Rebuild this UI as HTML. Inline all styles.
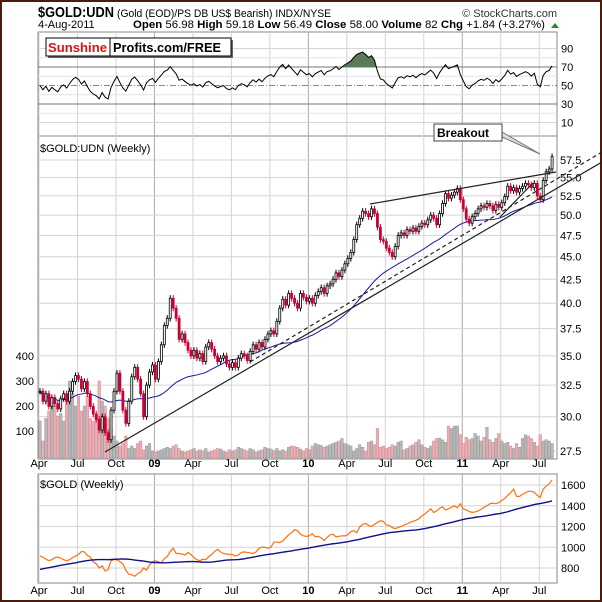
<!DOCTYPE html>
<html><head><meta charset="utf-8"><style>
html,body{margin:0;padding:0;background:#fff}
#wrap{position:relative;width:602px;height:602px;overflow:hidden;background:#fff}
svg text{font-family:"Liberation Sans",sans-serif}
</style></head><body>
<div id="wrap">
<svg id="svg" width="602" height="602" viewBox="0 0 602 602">
<rect x="1" y="1" width="600" height="600" fill="#fff" stroke="#4a1c0c" stroke-width="2"/>
<text x="38" y="17" font-size="15" font-weight="bold" textLength="76" lengthAdjust="spacingAndGlyphs">$GOLD:UDN</text>
<text x="117" y="17" font-size="11" textLength="214" lengthAdjust="spacingAndGlyphs">(Gold (EOD)/PS DB US$ Bearish)  INDX/NYSE</text>
<text x="557" y="17" font-size="11" text-anchor="end" fill="#333">© StockCharts.com</text>
<text x="38" y="28" font-size="11">4-Aug-2011</text>
<text x="133" y="28" font-size="11" textLength="412" lengthAdjust="spacingAndGlyphs"><tspan font-weight="bold">Open</tspan> 56.98  <tspan font-weight="bold">High</tspan> 59.18  <tspan font-weight="bold">Low</tspan> 56.49  <tspan font-weight="bold">Close</tspan> 58.00  <tspan font-weight="bold">Volume</tspan> 82  <tspan font-weight="bold">Chg</tspan> +1.84 (+3.27%)</text>
<polygon points="551,28 555,23 559,28" fill="#2a8a2a"/>
<g id="g"></g>
</svg>
</div>
<script>
// ---- data ----
const quarterLabels=['Apr','Jul','Oct','09','Apr','Jul','Oct','10','Apr','Jul','Oct','11','Apr','Jul'];
const priceTicks=[27.5,30,32.5,35,37.5,40,42.5,45,47.5,50,52.5,55,57.5];
const volTicks=[100,200,300,400];
const rsiTicks=[10,30,50,70,90];
const goldTicks=[800,1000,1200,1400,1600];
const closes=[32.0,31.2,31.8,30.8,31.5,31.0,30.6,31.4,31.8,31.2,32.0,32.8,33.3,
33.0,32.2,32.8,31.8,30.8,30.2,29.8,29.0,30.0,28.8,28.3,30.5,32.0,
33.5,32.0,30.5,29.5,31.2,33.2,34.0,33.0,31.8,30.0,32.5,33.6,34.2,
33.0,34.5,36.0,37.8,38.5,40.5,39.5,38.5,36.5,37.0,36.2,35.5,35.0,
35.5,34.8,35.2,34.5,35.8,36.2,35.6,35.0,34.5,34.8,35.0,34.3,34.0,
34.4,34.0,34.8,35.2,35.0,34.6,35.4,36.0,35.6,36.2,35.8,36.5,37.0,
37.3,37.0,38.2,39.5,40.4,39.8,41.0,40.5,40.0,39.5,41.0,40.6,40.2,
40.5,40.0,40.8,41.2,41.6,41.0,41.8,42.0,42.5,43.2,42.8,43.5,44.2,
44.8,45.5,47.0,48.8,49.6,50.5,50.2,49.8,50.8,50.2,48.5,47.0,46.8,
46.0,45.5,45.0,46.2,47.5,47.8,47.5,48.2,48.0,48.4,48.0,48.6,49.0,
48.8,49.4,50.0,49.6,48.8,50.2,51.5,52.8,52.2,52.6,53.0,53.5,52.0,
50.8,49.5,49.0,49.8,50.2,50.8,51.2,51.0,51.5,51.2,50.6,51.4,51.0,
51.6,52.4,53.8,53.2,53.6,53.0,53.5,53.8,54.2,54.0,53.6,54.2,52.5,
52.0,54.6,55.8,56.2,58.0];
const volumes=[140,60,150,180,220,200,160,170,140,230,300,250,200,
240,180,200,240,150,140,160,300,220,200,150,110,80,
60,40,50,80,30,40,30,50,60,25,40,50,20,
15,20,25,30,35,30,40,45,30,20,15,20,25,
30,20,25,20,30,15,20,25,30,28,20,15,25,
20,25,35,30,25,20,30,25,15,20,25,35,30,
28,22,30,20,25,18,35,40,38,35,28,20,30,
25,40,50,45,42,35,40,45,50,55,60,70,50,
45,40,20,30,45,35,20,55,60,45,110,35,40,
30,35,45,40,55,60,25,30,40,45,55,65,45,
35,30,40,60,70,72,65,55,120,110,120,120,85,
50,75,65,70,90,80,60,75,115,65,55,70,90,
60,50,55,40,30,50,35,70,85,80,70,55,40,
85,60,65,60,50];
const goldPrior=[665,660,665,670,680,670,665,670,665,700,705,710,715,725,735,740,750,760,755,775,790,800,810,800,830,810,800,795,820,840,860,880,890,900,940,970,990,1000,940];
const gold=[915,905,885,870,880,900,905,895,880,870,880,900,915,
930,960,955,920,905,860,840,800,820,770,785,870,880,
880,860,840,780,740,735,720,745,760,800,780,830,860,
870,860,850,890,910,960,990,940,940,935,925,950,930,
900,880,870,885,880,910,930,960,980,955,940,935,930,
930,915,925,950,955,950,945,940,955,990,1000,1000,990,
1000,1050,1050,1045,1060,1090,1120,1140,1170,1160,1125,1110,1105,
1110,1130,1100,1105,1090,1065,1095,1120,1125,1100,1105,1110,1110,
1120,1150,1160,1140,1195,1220,1230,1210,1200,1220,1240,1255,1250,
1215,1210,1190,1180,1190,1200,1215,1225,1240,1250,1260,1275,1300,
1320,1345,1370,1335,1350,1375,1390,1360,1370,1385,1400,1380,1420,
1370,1360,1345,1335,1340,1350,1365,1385,1400,1420,1425,1420,1430,
1450,1470,1500,1525,1560,1490,1490,1510,1525,1540,1540,1530,1500,
1480,1560,1590,1610,1650];

// ---- scales ----
const L=38,R=557;
const xw=i=>40+i*2.96;
const yP=v=>160+394.6*Math.log(57.5/v);
const yV=v=>456-v*0.25;
const yR=r=>104-(r-30)*0.925;
const yG=v=>485-(v-1600)*0.10375;
const NS='http://www.w3.org/2000/svg';
const g=document.getElementById('g');
function mk(tag,attrs,parent){const e=document.createElementNS(NS,tag);for(const k in attrs)e.setAttribute(k,attrs[k]);(parent||g).appendChild(e);return e;}

// panels
const panels=[['rsi-panel',32,136],['price-panel',136,459],['gold-panel',474,583]];
panels.forEach(p=>{const r=mk('rect',{x:L,y:p[1],width:R-L,height:p[2]-p[1],fill:'#fff',stroke:'#888','stroke-width':1});

});

// vertical grid
quarterLabels.forEach((lab,q)=>{const x=xw(q*13)-1;const yr=/\d/.test(lab);
panels.forEach(p=>{const l=mk('line',{x1:x,x2:x,y1:p[1],y2:p[2],stroke:yr?'#aaa':'#d4d4d4','stroke-width':1});

});
[467,594].forEach(ty=>{const t=mk('text',{x:x,y:ty,'font-size':11,'text-anchor':'middle','font-weight':yr?'bold':'normal'});t.textContent=lab;

});});

// RSI grid
[20,40,60,80].forEach(r=>{const l=mk('line',{x1:L,x2:R,y1:yR(r),y2:yR(r),stroke:'#e4e4e4'});

});
rsiTicks.forEach(r=>{const y=yR(r);
const st=(r===30||r===70)?{stroke:'#777'}:(r===50?{stroke:'#888','stroke-dasharray':'6,2,1,2'}:{stroke:'#d4d4d4'});
const l=mk('line',Object.assign({x1:L,x2:R,y1:y,y2:y},st));


const t=mk('text',{x:561,y:y+4,'font-size':11});t.textContent=r;

});

// price grid
priceTicks.forEach(v=>{const y=yP(v);const l=mk('line',{x1:L,x2:R,y1:y,y2:y,stroke:'#d4d4d4'});


const t=mk('text',{x:560,y:y+4,'font-size':11});t.textContent=v.toFixed(1);

});
volTicks.forEach(v=>{const t=mk('text',{x:34,y:yV(v)+4,'font-size':11,'text-anchor':'end'});t.textContent=v;

});
goldTicks.forEach(v=>{const y=yG(v);const l=mk('line',{x1:L,x2:R,y1:y,y2:y,stroke:'#d4d4d4'});


const t=mk('text',{x:561,y:y+4,'font-size':11});t.textContent=v;

});

// volume bars
closes.forEach((c,i)=>{const down=i>0&&c<closes[i-1];const y=yV(volumes[i]);
const b=mk('rect',{x:xw(i)-1.3,y:y,width:2.6,height:456-y+2,fill:down?'#eab0b6':'#b8b8b8',stroke:down?'#d88890':'#999','stroke-width':0.5});

});

// ratio moving average (40 wk)
let ma=[];closes.forEach((c,i)=>{const s=closes.slice(Math.max(0,i-39),i+1);ma.push(s.reduce((a,b)=>a+b,0)/s.length);});
const maL=mk('polyline',{points:ma.map((v,i)=>xw(i)+','+yP(v)).join(' '),fill:'none',stroke:'#1a1aa0','stroke-width':1});



// candles
closes.forEach((c,i)=>{const o=i>0?closes[i-1]:c;const down=c<o;const hi=Math.max(o,c)*1.008,lo=Math.min(o,c)*0.992;
const col=down?'#cc0033':'#000';const x=xw(i);
const w=mk('line',{x1:x,x2:x,y1:yP(hi),y2:yP(lo),stroke:col,'stroke-width':1});


const yt=yP(Math.max(o,c)),yb=yP(Math.min(o,c));
const b=mk('rect',{x:x-1,y:yt,width:2,height:Math.max(1,yb-yt),fill:down?'#cc0033':'#fff',stroke:col,'stroke-width':0.8});

});

// trendlines
[[105,452,602,162,''],[250,362,602,152,'4,3'],[370,204,556,172,''],[500,217,533,183,'']].forEach(t=>{
const l=mk('line',{x1:t[0],y1:t[1],x2:t[2],y2:t[3],stroke:'#222','stroke-width':1.2,'stroke-dasharray':t[4]});

});

// RSI 14 (Wilder, neutral seed)
const rsiSrc=closes;let rsi=[];let ag=0.3,al=0.3;
rsiSrc.forEach((c,i)=>{if(i===0){rsi.push(50);return;}const d=c-rsiSrc[i-1];const gn=Math.max(d,0),ls=Math.max(-d,0);
ag=(ag*13+gn)/14;al=(al*13+ls)/14;
rsi.push(al===0?100:100-100/(1+ag/al));});
const rpts=rsi.map((v,i)=>xw(i)+','+yR(v)).join(' ');
const cp=mk('clipPath',{id:'ob'});mk('rect',{x:L,y:32,width:R-L,height:yR(70)-32},cp);
const area=mk('polygon',{points:xw(0)+','+yR(70)+' '+rpts+' '+xw(closes.length-1)+','+yR(70),fill:'#5a7a5a','clip-path':'url(#ob)'});


const rl=mk('polyline',{points:rpts,fill:'none',stroke:'#000','stroke-width':1});



// gold
const all=goldPrior.concat(gold);let gma=gold.map((v,i)=>{const k=i+goldPrior.length;const s=all.slice(k-39,k+1);return s.reduce((a,b)=>a+b,0)/s.length;});
const gl=mk('polyline',{points:gold.map((v,i)=>xw(i)+','+yG(v)).join(' '),fill:'none',stroke:'#ff7010','stroke-width':1.2});


const gml=mk('polyline',{points:gma.map((v,i)=>xw(i)+','+yG(v)).join(' '),fill:'none',stroke:'#10108a','stroke-width':1.4});



// panel labels
[['$GOLD:UDN (Weekly)',40,152,'price-panel-title'],['$GOLD (Weekly)',40,488,'gold-panel-title']].forEach(p=>{
const t=mk('text',{x:p[1],y:p[2],'font-size':11,'font-family':'DejaVu Sans Mono, monospace'});t.textContent=p[0];

});
</script>
<svg width="602" height="602" style="position:absolute;left:0;top:0">
<rect x="48" y="40" width="185" height="18" fill="#666"/>
<rect x="46" y="38" width="185" height="18" fill="#fff" stroke="#000" stroke-width="1"/>
<line x1="110" y1="38" x2="110" y2="56" stroke="#000"/>
<text x="48" y="52" font-size="13" font-weight="bold" fill="#e01010" textLength="59" lengthAdjust="spacingAndGlyphs" font-family="Liberation Sans, sans-serif">Sunshine</text>
<text x="113" y="52" font-size="13" font-weight="bold" fill="#000" textLength="108" lengthAdjust="spacingAndGlyphs" font-family="Liberation Sans, sans-serif">Profits.com/FREE</text>
<polygon points="502,132 540,154 502,137" fill="#ddd" stroke="#777" stroke-width="1"/>
<rect x="434" y="124" width="68" height="17" fill="#fff" stroke="#444"/>
<text x="437" y="137" font-size="12" font-weight="bold" font-family="Liberation Sans, sans-serif">Breakout</text>
</svg>
</body></html>
